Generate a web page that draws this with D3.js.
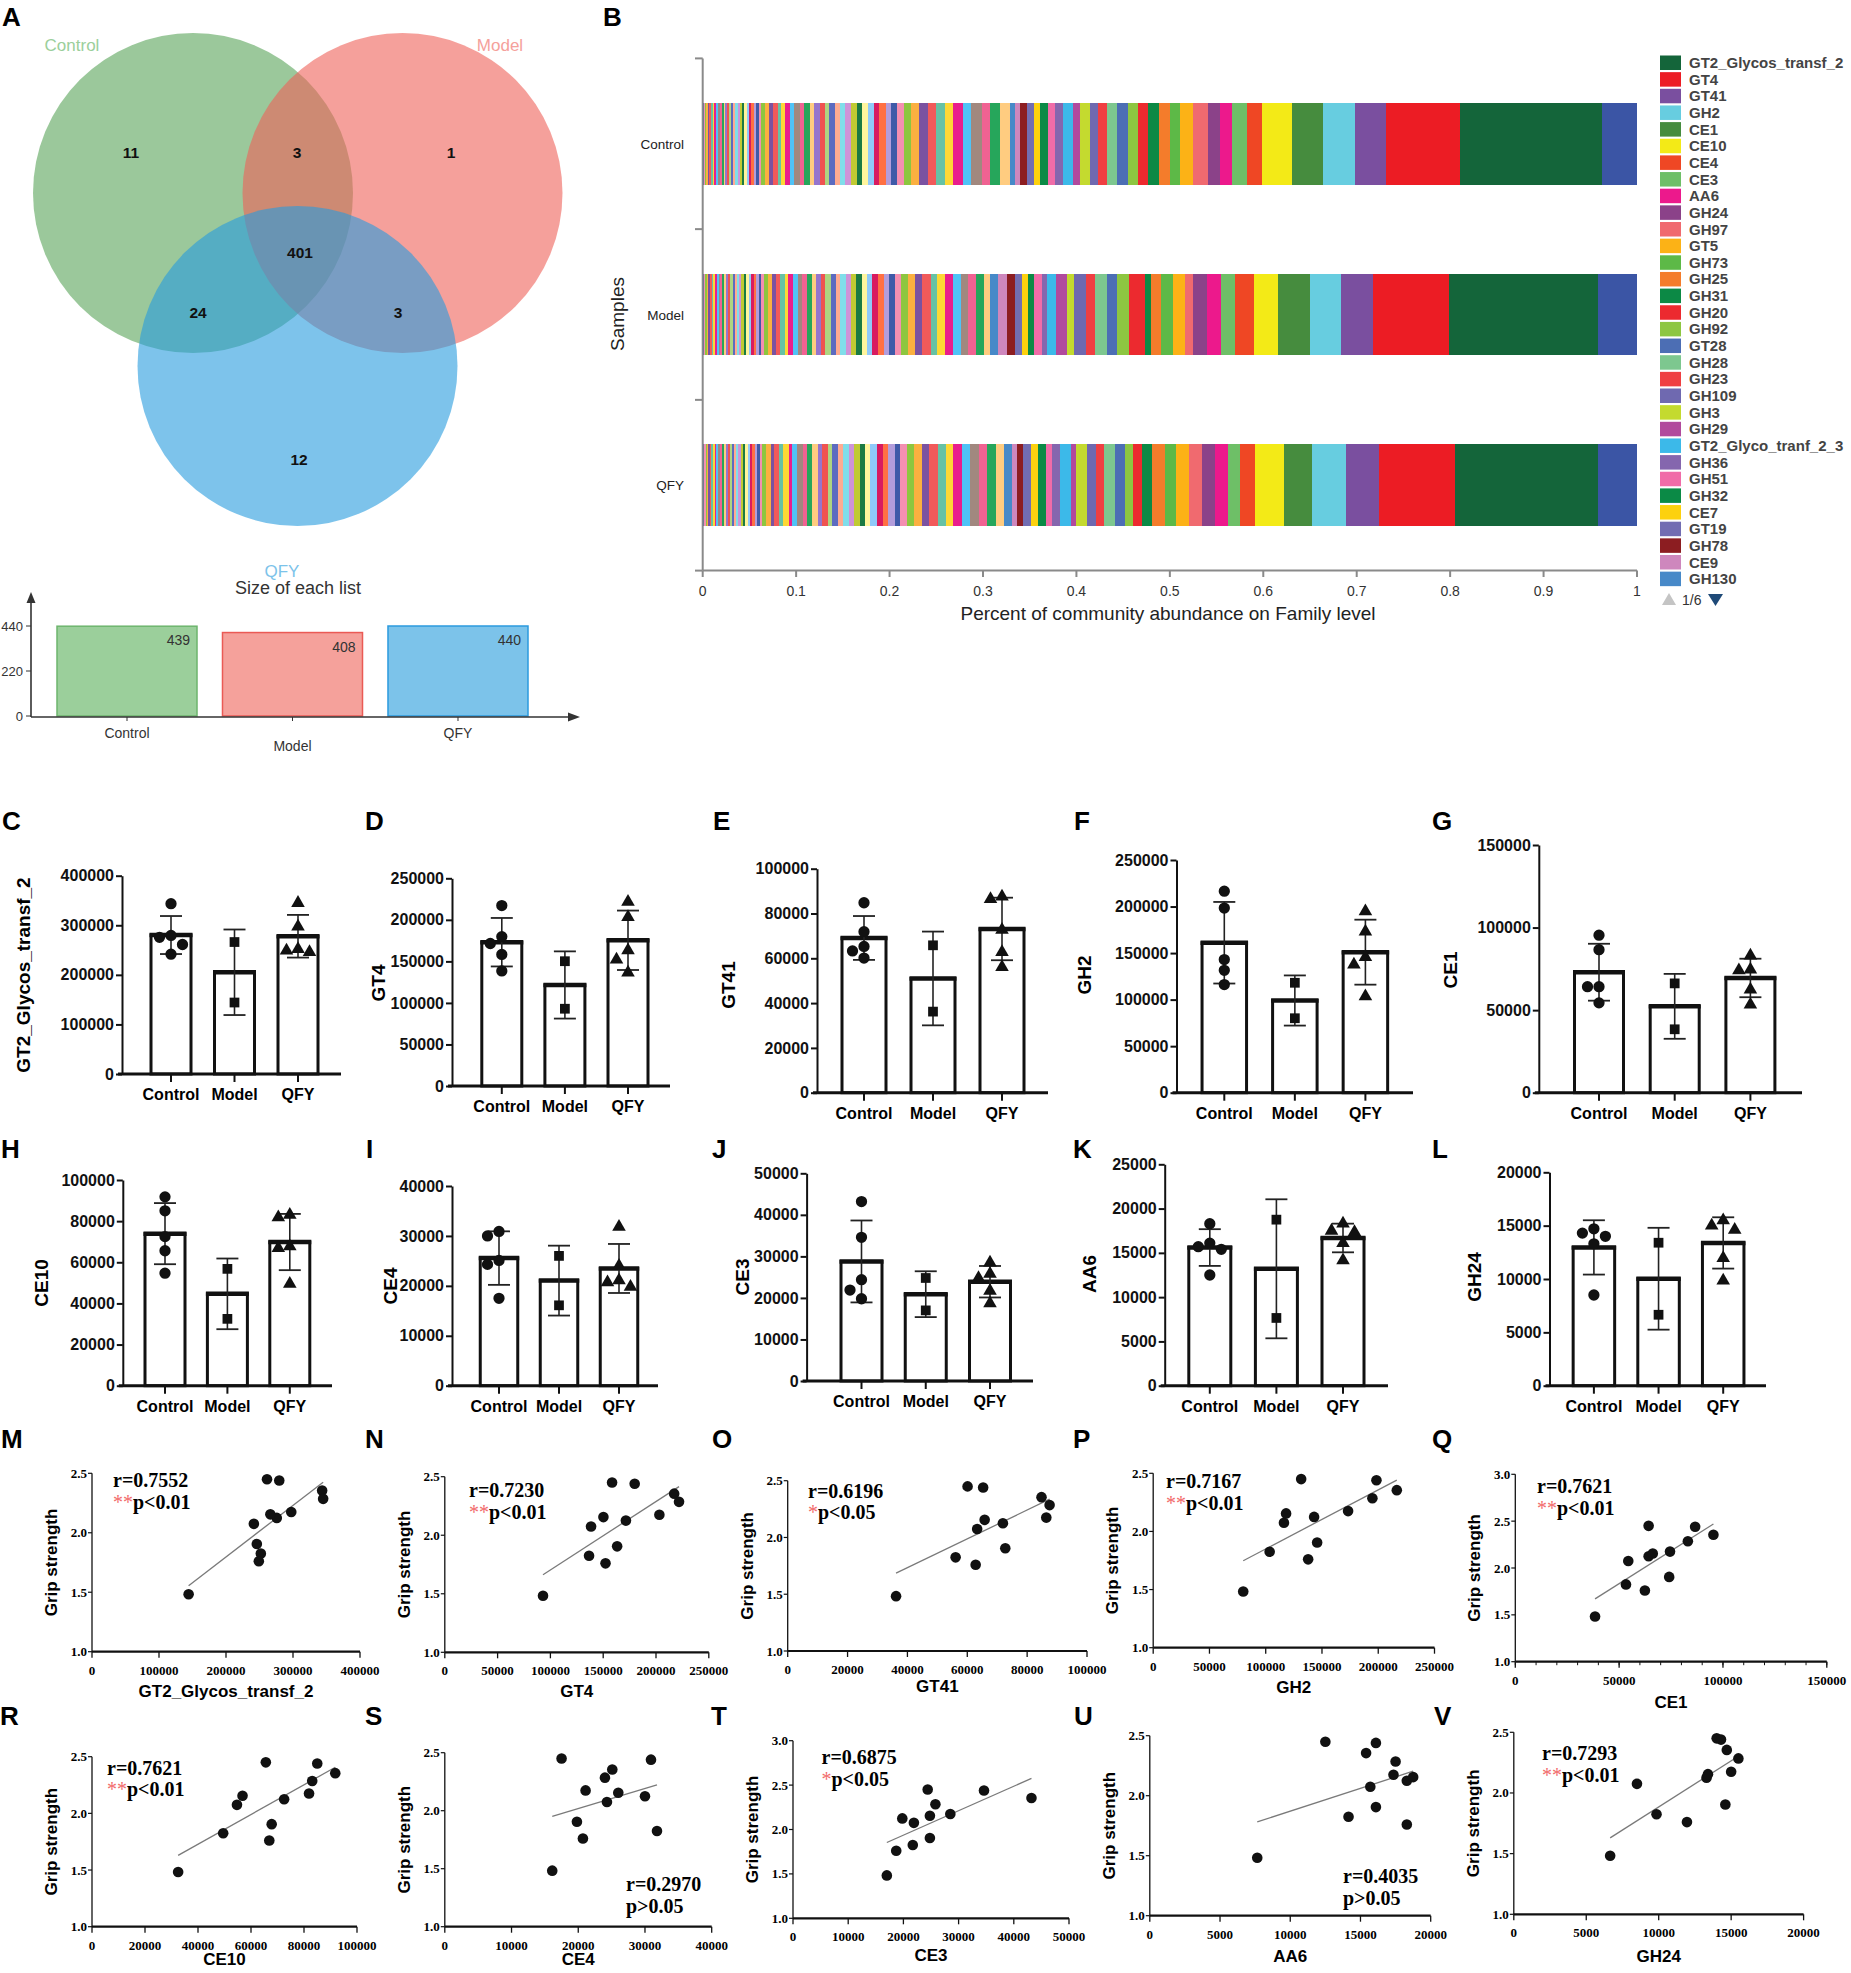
<!DOCTYPE html>
<html>
<head>
<meta charset="utf-8">
<title>CAZy families: Venn, composition, bars and correlations</title>
<script src="https://cdn.jsdelivr.net/npm/d3@7/dist/d3.min.js"></script>
<style>
  body { margin: 0; background: #fff; }
  svg { display: block; }
</style>
</head>
<body>
<div class="chart"></div>
<script>
// ---------------- data ----------------
const groups = ['Control', 'Model', 'QFY'];

// 12 animals: 5 Control, 2 Model, 5 QFY (same order in every feature array)
const sampleGroup = ['Control', 'Control', 'Control', 'Control', 'Control',
  'Model', 'Model', 'QFY', 'QFY', 'QFY', 'QFY', 'QFY'];
const gripStrength = [2.45, 2.44, 2.355, 2.125, 2.075, 2.155, 1.483, 2.285, 2.175, 1.905, 1.825, 1.76];

const featureNames = ['GT2_Glycos_transf_2', 'GT4', 'GT41', 'GH2', 'CE1', 'CE10', 'CE4', 'CE3', 'AA6', 'GH24'];
const gt2Glycos = [261200, 279500, 343500, 275800, 241600, 266200, 144200, 345000, 297400, 246000, 252000, 249000];
const gt4 = [158400, 179800, 217200, 171500, 138500, 150200, 93000, 221800, 203200, 163200, 136600, 152200];
const gt41 = [60100, 65300, 84800, 71900, 63300, 65800, 36200, 87500, 86400, 72700, 56100, 62800];
const gh2 = [131500, 198400, 216500, 143000, 116200, 118100, 80000, 194800, 173200, 145700, 103500, 137700];
const ce1 = [64200, 86600, 95400, 64200, 54400, 66200, 38400, 83100, 74500, 74100, 53300, 62400];
const ce10 = [65600, 85000, 91800, 72500, 54700, 56800, 32500, 83100, 81900, 67800, 49500, 66900];
const ce4 = [17500, 30900, 25100, 30000, 24300, 26000, 16100, 24000, 21100, 19800, 31800, 20700];
const ce3 = [24400, 34600, 43200, 19800, 21900, 24800, 17000, 25800, 28500, 24800, 21700, 18700];
const aa6 = [12500, 16100, 15400, 18300, 15700, 18750, 7650, 17500, 17350, 16100, 14150, 18300];
const gh24 = [14000, 14300, 14700, 13300, 8500, 13400, 6650, 15500, 15000, 14600, 9850, 11950];
const featureValues = [gt2Glycos, gt4, gt41, gh2, ce1, ce10, ce4, ce3, aa6, gh24];

// correlation annotations
const corrR = ['0.7552', '0.7230', '0.6196', '0.7167', '0.7621', '0.7621', '0.2970', '0.6875', '0.4035', '0.7293'];
const corrStars = ['**', '**', '*', '**', '**', '**', '', '*', '', '**'];
const corrP = ['p<0.01', 'p<0.01', 'p<0.05', 'p<0.01', 'p<0.01', 'p<0.01', 'p>0.05', 'p<0.05', 'p>0.05', 'p<0.01'];

// Venn (panel A)
const vennSets = ['Control', 'Model', 'QFY'];
const vennRegions = ['Control', 'Control&Model', 'Model', 'Control&Model&QFY', 'Control&QFY', 'Model&QFY', 'QFY'];
const vennCounts = [11, 3, 1, 401, 24, 3, 12];
const listSizes = [439, 408, 440];

// Family composition (panel B) – legend page 1 of 6, in legend order
const legendFamilies = ['GT2_Glycos_transf_2', 'GT4', 'GT41', 'GH2', 'CE1', 'CE10', 'CE4', 'CE3', 'AA6', 'GH24',
  'GH97', 'GT5', 'GH73', 'GH25', 'GH31', 'GH20', 'GH92', 'GT28', 'GH28', 'GH23', 'GH109', 'GH3', 'GH29',
  'GT2_Glyco_tranf_2_3', 'GH36', 'GH51', 'GH32', 'CE7', 'GT19', 'GH78', 'CE9', 'GH130'];
const legendColors = ['#14653a', '#ec1c24', '#7a4f9f', '#67cde0', '#468c3e', '#f3ea17', '#ef4724', '#6ebf67',
  '#ec198c', '#8b4289', '#f06a6f', '#fcb216', '#5db947', '#f47c2b', '#0c8945', '#ec2a2f', '#8dc641', '#4c6eb4',
  '#7dc78f', '#ef3f42', '#6f69b0', '#c4da2f', '#b14a9d', '#3cb9e9', '#8566ae', '#f06ca8', '#0b8a46', '#fdd10e',
  '#726db2', '#8c1d21', '#ce87bd', '#4789c8'];
const topControl = [0.1528, 0.0790, 0.0325, 0.0347, 0.0328, 0.0321, 0.0168, 0.0161, 0.0128, 0.0125, 0.0166,
  0.0134, 0.0105, 0.0124, 0.0115, 0.0110, 0.0105, 0.0120, 0.0100, 0.0100, 0.0090, 0.0105, 0.0072, 0.0105,
  0.0086, 0.0081, 0.0076, 0.0072, 0.0072, 0.0072, 0.0057, 0.0048];
const topModel = [0.1590, 0.0813, 0.0346, 0.0332, 0.0339, 0.0264, 0.0203, 0.0150, 0.0150, 0.0148, 0.0087,
  0.0119, 0.0129, 0.0110, 0.0062, 0.0177, 0.0129, 0.0110, 0.0120, 0.0096, 0.0129, 0.0076, 0.0115, 0.0096,
  0.0062, 0.0081, 0.0062, 0.0072, 0.0072, 0.0081, 0.0096, 0.0086];
const topQFY = [0.1528, 0.0813, 0.0357, 0.0364, 0.0300, 0.0303, 0.0164, 0.0125, 0.0143, 0.0142, 0.0133,
  0.0143, 0.0120, 0.0134, 0.0105, 0.0105, 0.0086, 0.0105, 0.0110, 0.0086, 0.0105, 0.0110, 0.0057, 0.0119,
  0.0081, 0.0072, 0.0086, 0.0072, 0.0081, 0.0062, 0.0062, 0.0081];
const othersShare = [0.0370, 0.0420, 0.0420];
// the many small families of legend pages 2-6, least abundant first
const minorControl = [
  .0011, .0016, .0013, .0018, .0014, .0020, .0015, .0017, .0022, .0016, .0019, .0024, .0018, .0021, .0017,
  .0025, .0020, .0023, .0019, .0026, .0022, .0028, .0021, .0024, .0027, .0023, .0030, .0025, .0029, .0026,
  .0038, .0045, .0041, .0050, .0036, .0047, .0052, .0044, .0058, .0049, .0055, .0046, .0061, .0053, .0048,
  .0064, .0057, .0051, .0066, .0059, .0054, .0068, .0062, .0056, .0070, .0060, .0065, .0072,
  .0078, .0085, .0092, .0081, .0098, .0088, .0105, .0094, .0110, .0090, .0102, .0115];
const minorModel = [
  .0014, .0012, .0019, .0015, .0017, .0021, .0013, .0020, .0018, .0023, .0016, .0022, .0019, .0025, .0020,
  .0018, .0027, .0022, .0024, .0021, .0028, .0023, .0026, .0030, .0024, .0027, .0031, .0025, .0029, .0032,
  .0040, .0036, .0048, .0043, .0051, .0039, .0046, .0055, .0042, .0050, .0058, .0047, .0053, .0044, .0060,
  .0052, .0049, .0062, .0055, .0050, .0064, .0057, .0053, .0059, .0066, .0054, .0061, .0068,
  .0070, .0082, .0076, .0088, .0072, .0085, .0079, .0092, .0074, .0080, .0087, .0070];
const minorQFY = [
  .0013, .0017, .0012, .0019, .0016, .0014, .0021, .0018, .0015, .0023, .0017, .0020, .0024, .0019, .0022,
  .0018, .0026, .0021, .0024, .0020, .0027, .0023, .0025, .0029, .0022, .0026, .0030, .0024, .0028, .0025,
  .0042, .0047, .0039, .0052, .0045, .0056, .0041, .0050, .0059, .0046, .0054, .0062, .0048, .0057, .0051,
  .0065, .0055, .0060, .0049, .0067, .0058, .0053, .0070, .0061, .0056, .0072, .0063, .0068,
  .0075, .0088, .0080, .0094, .0083, .0078, .0097, .0086, .0091, .0082, .0099, .0089];

// ---------------- drawing ----------------
const SANS = 'Liberation Sans, Arial, sans-serif';
const SERIF = 'Liberation Serif, Times New Roman, serif';

const svg = d3.select('.chart').append('svg')
  .attr('width', 1851)
  .attr('height', 1973)
  .style('font-family', SANS);

svg.append('rect').attr('width', 1851).attr('height', 1973).attr('fill', '#fff');

function panelLetter(letter, x, y) {
  svg.append('text')
    .attr('x', x).attr('y', y)
    .attr('font-size', 26).attr('font-weight', 'bold')
    .text(letter);
}

// ===== A: Venn diagram =====
panelLetter('A', 2, 26);
const vennCircle = [[193, 193], [402.5, 193], [297.5, 366]];
const vennFill = ['#58a358', '#ee6158', '#269bde'];
const vennText = ['#9bcf9b', '#f5a19b', '#7cc3ea'];

svg.append('g').selectAll('circle')
  .data(vennSets)
  .join('circle')
  .attr('cx', (d, i) => vennCircle[i][0])
  .attr('cy', (d, i) => vennCircle[i][1])
  .attr('r', 160)
  .attr('fill', (d, i) => vennFill[i])
  .attr('fill-opacity', 0.6);

const vennLabelPos = [[72, 51], [500, 51], [282, 577]];
svg.append('g').selectAll('text')
  .data(vennSets)
  .join('text')
  .attr('x', (d, i) => vennLabelPos[i][0])
  .attr('y', (d, i) => vennLabelPos[i][1])
  .attr('text-anchor', 'middle')
  .attr('font-size', 17)
  .attr('fill', (d, i) => vennText[i])
  .text(d => d);

const regionPos = {
  'Control': [131, 152], 'Control&Model': [297, 152], 'Model': [451, 152],
  'Control&Model&QFY': [300, 252], 'Control&QFY': [198, 312], 'Model&QFY': [398, 312], 'QFY': [299, 459]
};
svg.append('g').selectAll('text')
  .data(vennRegions)
  .join('text')
  .attr('x', d => regionPos[d][0])
  .attr('y', d => regionPos[d][1] + 5.5)
  .attr('text-anchor', 'middle')
  .attr('font-size', 15.5).attr('font-weight', 'bold').attr('fill', '#111')
  .text((d, i) => vennCounts[i]);

// size of each list
svg.append('text').attr('x', 298).attr('y', 594).attr('text-anchor', 'middle')
  .attr('font-size', 18).attr('fill', '#333').text('Size of each list');

const sizeX = d3.scaleBand().domain(vennSets).range([57, 528]).paddingInner(0.154).paddingOuter(0);
const sizeY = d3.scaleLinear().domain([0, 440]).range([716, 626]);
const sizeStroke = ['#6db56d', '#ea5a55', '#2b9ade'];

svg.append('g').selectAll('rect')
  .data(vennSets)
  .join('rect')
  .attr('x', d => sizeX(d))
  .attr('y', (d, i) => sizeY(listSizes[i]))
  .attr('width', sizeX.bandwidth())
  .attr('height', (d, i) => sizeY(0) - sizeY(listSizes[i]))
  .attr('fill', (d, i) => vennText[i])
  .attr('stroke', (d, i) => sizeStroke[i])
  .attr('stroke-width', 1.5);

svg.append('g').selectAll('text')
  .data(vennSets)
  .join('text')
  .attr('x', d => sizeX(d) + sizeX.bandwidth() - 7)
  .attr('y', (d, i) => sizeY(listSizes[i]) + 19)
  .attr('text-anchor', 'end').attr('font-size', 14).attr('fill', '#333')
  .text((d, i) => listSizes[i]);

const axisCol = '#333';
svg.append('line').attr('x1', 31).attr('x2', 31).attr('y1', 717).attr('y2', 600)
  .attr('stroke', axisCol).attr('stroke-width', 1.6);
svg.append('path').attr('d', 'M31,592 L26.5,603 L35.5,603 Z').attr('fill', axisCol);
svg.append('line').attr('x1', 31).attr('x2', 570).attr('y1', 717).attr('y2', 717)
  .attr('stroke', axisCol).attr('stroke-width', 1.6);
svg.append('path').attr('d', 'M580,717 L568,712.5 L568,721.5 Z').attr('fill', axisCol);

[0, 220, 440].forEach(t => {
  svg.append('line').attr('x1', 26).attr('x2', 31).attr('y1', sizeY(t)).attr('y2', sizeY(t))
    .attr('stroke', axisCol);
  svg.append('text').attr('x', 23).attr('y', sizeY(t) + 5).attr('text-anchor', 'end')
    .attr('font-size', 13).attr('fill', '#333').text(t);
});
const sizeLabelY = [738, 751, 738];
vennSets.forEach((d, i) => {
  const cx = sizeX(d) + sizeX.bandwidth() / 2;
  svg.append('line').attr('x1', cx).attr('x2', cx).attr('y1', 717).attr('y2', 721).attr('stroke', axisCol);
  svg.append('text').attr('x', cx).attr('y', sizeLabelY[i]).attr('text-anchor', 'middle')
    .attr('font-size', 14).attr('fill', '#333').text(d);
});

// ===== B: stacked family composition =====
panelLetter('B', 603, 26);
const stripePalette = ['#3f5aa8', '#f48fb1', '#8dc63f', '#fbb040', '#7b52a1', '#f15a5a', '#66c2a5', '#fdd835',
  '#e91e8c', '#4fc3f7', '#a1887f', '#f06292', '#26a65b', '#ffcc80', '#9575cd', '#ef5350', '#aed581', '#5c6bc0',
  '#ffab91', '#80deea', '#ce93d8', '#c0ca33', '#1b7a43', '#fff59d', '#90caf9', '#d81b60', '#ff7043', '#b39ddb'];
const minorArrays = [minorControl, minorModel, minorQFY];
const topArrays = [topControl, topModel, topQFY];
const minorKeys = minorControl.map((v, j) => 'minor' + j);
const stackKeys = minorKeys.concat(legendFamilies.slice().reverse(), ['Others']);

const rows = groups.map((s, i) => {
  const row = { sample: s };
  minorKeys.forEach((k, j) => { row[k] = minorArrays[i][j]; });
  legendFamilies.forEach((f, j) => { row[f] = topArrays[i][j]; });
  row.Others = othersShare[i];
  return row;
});
const series = d3.stack().keys(stackKeys)(rows);

function familyColor(key) {
  if (key === 'Others') return '#3b55a5';
  const li = legendFamilies.indexOf(key);
  if (li >= 0) return legendColors[li];
  return stripePalette[minorKeys.indexOf(key) % stripePalette.length];
}

const bx = d3.scaleLinear().domain([0, 1]).range([702.7, 1637]);
const by = d3.scaleBand().domain(groups).range([58.4, 570.6]).paddingInner(0.52).paddingOuter(0.26);

svg.append('g')
  .attr('shape-rendering', 'crispEdges')
  .selectAll('g')
  .data(series)
  .join('g')
  .attr('fill', d => familyColor(d.key))
  .selectAll('rect')
  .data(d => d)
  .join('rect')
  .attr('x', d => bx(d[0]))
  .attr('width', d => Math.max(0.6, bx(d[1]) - bx(d[0])))
  .attr('y', d => by(d.data.sample))
  .attr('height', by.bandwidth());

const bAxis = '#8a8a8a';
svg.append('line').attr('x1', 702.7).attr('x2', 702.7).attr('y1', 58.4).attr('y2', 570.6)
  .attr('stroke', bAxis).attr('stroke-width', 2);
svg.append('line').attr('x1', 702.7).attr('x2', 1637).attr('y1', 570.6).attr('y2', 570.6)
  .attr('stroke', bAxis).attr('stroke-width', 2);
[0, 1, 2, 3].forEach(k => {
  const yy = 58.4 + k * by.step();
  svg.append('line').attr('x1', 695).attr('x2', 702.7).attr('y1', yy).attr('y2', yy)
    .attr('stroke', bAxis).attr('stroke-width', 2);
});
bx.ticks(10).forEach(t => {
  svg.append('line').attr('x1', bx(t)).attr('x2', bx(t)).attr('y1', 570.6).attr('y2', 577)
    .attr('stroke', bAxis).attr('stroke-width', 2);
  svg.append('text').attr('x', bx(t)).attr('y', 596).attr('text-anchor', 'middle')
    .attr('font-size', 14).attr('fill', '#333').text(t === 0 || t === 1 ? d3.format('d')(t) : t);
});
groups.forEach(g => {
  svg.append('text').attr('x', 684).attr('y', by(g) + by.bandwidth() / 2 + 5)
    .attr('text-anchor', 'end').attr('font-size', 13.5).attr('fill', '#222').text(g);
});
svg.append('text').attr('x', 1168).attr('y', 620).attr('text-anchor', 'middle')
  .attr('font-size', 19).attr('fill', '#222').text('Percent of community abundance on Family level');
svg.append('text').attr('transform', 'translate(624,314) rotate(-90)').attr('text-anchor', 'middle')
  .attr('font-size', 19).attr('fill', '#222').text('Samples');

// legend
const legend = svg.append('g');
legendFamilies.forEach((f, i) => {
  const yy = 55.5 + i * 16.65;
  legend.append('rect').attr('x', 1660).attr('y', yy).attr('width', 21).attr('height', 14.5)
    .attr('fill', legendColors[i]);
  legend.append('text').attr('x', 1689).attr('y', yy + 12.5)
    .attr('font-size', 15).attr('font-weight', 'bold').attr('fill', '#444').text(f);
});
legend.append('path').attr('d', 'M1669,593 L1662,605 L1676,605 Z').attr('fill', '#c4c4c4');
legend.append('text').attr('x', 1682).attr('y', 605).attr('font-size', 14).attr('fill', '#333').text('1/6');
legend.append('path').attr('d', 'M1708,594 L1723,594 L1715.5,606 Z').attr('fill', '#1f4a78');

// ===== C–L: mean ± SD bar charts =====
const barLayout = [
  { letter: 'C', lx: 2, ly: 830, ax: 122, y0: 1074, yTop: 875.7, max: 400000, step: 100000, cx: [171, 298], bw: 40, xEnd: 341, tx: 23, ty: 975 },
  { letter: 'D', lx: 365, ly: 830, ax: 452, y0: 1086, yTop: 878.3, max: 250000, step: 50000, cx: [501.8, 628], bw: 40, xEnd: 670, tx: 378, ty: 983 },
  { letter: 'E', lx: 713, ly: 830, ax: 817, y0: 1092.7, yTop: 868.7, max: 100000, step: 20000, cx: [864, 1002], bw: 44, xEnd: 1048, tx: 728, ty: 985 },
  { letter: 'F', lx: 1074, ly: 830, ax: 1176.5, y0: 1092.7, yTop: 860, max: 250000, step: 50000, cx: [1224.3, 1365.4], bw: 44.5, xEnd: 1413, tx: 1084, ty: 975 },
  { letter: 'G', lx: 1432, ly: 830, ax: 1538.8, y0: 1092.7, yTop: 845, max: 150000, step: 50000, cx: [1599, 1750.4], bw: 49, xEnd: 1802, tx: 1450, ty: 970 },
  { letter: 'H', lx: 1, ly: 1158, ax: 122.8, y0: 1385.7, yTop: 1180, max: 100000, step: 20000, cx: [165, 289.8], bw: 40, xEnd: 332, tx: 41, ty: 1283 },
  { letter: 'I', lx: 366, ly: 1158, ax: 452, y0: 1385.7, yTop: 1186, max: 40000, step: 10000, cx: [499, 619], bw: 37.5, xEnd: 658, tx: 390, ty: 1286 },
  { letter: 'J', lx: 712, ly: 1158, ax: 806.6, y0: 1381, yTop: 1173.3, max: 50000, step: 10000, cx: [861.5, 990], bw: 41, xEnd: 1033, tx: 742, ty: 1277 },
  { letter: 'K', lx: 1073, ly: 1158, ax: 1164.7, y0: 1385.7, yTop: 1164.3, max: 25000, step: 5000, cx: [1209.8, 1343], bw: 42, xEnd: 1388, tx: 1089, ty: 1274 },
  { letter: 'L', lx: 1432, ly: 1158, ax: 1549.5, y0: 1385.7, yTop: 1172.3, max: 20000, step: 5000, cx: [1593.9, 1723.2], bw: 41.5, xEnd: 1766, tx: 1474, ty: 1277 }
];

const markerShape = { Control: d3.symbolCircle, Model: d3.symbolSquare, QFY: d3.symbolTriangle };
const markerSize = { Control: 100, Model: 95, QFY: 80 };

// simple beeswarm so near-equal values sit side by side
function swarm(vals, yScale, cx, step, minDist) {
  const placed = [];
  const out = [];
  vals.map((v, i) => i).sort((a, b) => vals[b] - vals[a]).forEach(i => {
    const py = yScale(vals[i]);
    for (let k = 0; k < 12; k++) {
      const off = k === 0 ? 0 : (k % 2 ? -1 : 1) * Math.ceil(k / 2) * step;
      const px = cx + off;
      if (placed.every(q => Math.hypot(q[0] - px, q[1] - py) >= minDist)) {
        placed.push([px, py]);
        out[i] = [px, py];
        break;
      }
    }
  });
  return out;
}

barLayout.forEach((p, fi) => {
  const values = featureValues[fi];
  const y = d3.scaleLinear().domain([0, p.max]).range([p.y0, p.yTop]);
  const x = d3.scalePoint().domain(groups).range(p.cx);
  const g = svg.append('g');
  panelLetter(p.letter, p.lx, p.ly);

  const yAxis = g.append('g')
    .attr('transform', `translate(${p.ax},0)`)
    .call(d3.axisLeft(y).tickValues(d3.range(0, p.max + 1, p.step)).tickFormat(d3.format('d'))
      .tickSize(6).tickSizeOuter(0).tickPadding(2));
  yAxis.selectAll('path, line').attr('stroke', '#111').attr('stroke-width', 2);
  yAxis.selectAll('text').attr('font-family', SANS).attr('font-size', 16).attr('font-weight', 'bold').attr('fill', '#111');

  g.append('text')
    .attr('transform', `translate(${p.tx},${p.ty}) rotate(-90)`)
    .attr('text-anchor', 'middle').attr('dy', '0.35em')
    .attr('font-size', 19).attr('font-weight', 'bold')
    .text(featureNames[fi]);

  groups.forEach(grp => {
    const vals = values.filter((v, i) => sampleGroup[i] === grp);
    const mean = d3.mean(vals);
    const sd = d3.deviation(vals);
    const cx = x(grp);
    g.append('rect')
      .attr('x', cx - p.bw / 2).attr('y', y(mean))
      .attr('width', p.bw).attr('height', p.y0 - y(mean))
      .attr('fill', '#fff').attr('stroke', '#111').attr('stroke-width', 3);
    g.append('line').attr('x1', cx - p.bw / 2 - 1.5).attr('x2', cx + p.bw / 2 + 1.5)
      .attr('y1', y(mean)).attr('y2', y(mean)).attr('stroke', '#111').attr('stroke-width', 4.5);
    // error bar
    g.append('line').attr('x1', cx).attr('x2', cx).attr('y1', y(mean + sd)).attr('y2', y(Math.max(0, mean - sd)))
      .attr('stroke', '#222').attr('stroke-width', 1.6);
    [mean + sd, mean - sd].forEach(v => {
      g.append('line').attr('x1', cx - 11).attr('x2', cx + 11).attr('y1', y(v)).attr('y2', y(v))
        .attr('stroke', '#222').attr('stroke-width', 1.8);
    });
    // individual animals
    const pos = swarm(vals, y, cx, 11.5, 10.5);
    g.append('g').selectAll('path')
      .data(vals)
      .join('path')
      .attr('transform', (d, i) => `translate(${pos[i][0]},${pos[i][1]})`)
      .attr('d', d3.symbol().type(markerShape[grp]).size(markerSize[grp]))
      .attr('fill', '#111');
    // x tick + label
    g.append('line').attr('x1', cx).attr('x2', cx).attr('y1', p.y0).attr('y2', p.y0 + 8)
      .attr('stroke', '#111').attr('stroke-width', 2);
    g.append('text').attr('x', cx).attr('y', p.y0 + 26).attr('text-anchor', 'middle')
      .attr('font-size', 16).attr('font-weight', 'bold').text(grp);
  });
  g.append('line').attr('x1', p.ax - 4).attr('x2', p.xEnd).attr('y1', p.y0).attr('y2', p.y0)
    .attr('stroke', '#111').attr('stroke-width', 3);
});

// ===== M–V: correlation with grip strength =====
const scatterLayout = [
  { letter: 'M', lx: 1, ly: 1448, ax: 92, y0: 1651.7, yTop: 1473.3, yMax: 2.5, xEnd: 360, xMax: 400000, xStep: 100000, ann: [113, 1487, 1509], ty: 1697 },
  { letter: 'N', lx: 365, ly: 1448, ax: 444.8, y0: 1652.3, yTop: 1476.7, yMax: 2.5, xEnd: 708.8, xMax: 250000, xStep: 50000, ann: [469, 1497, 1519], ty: 1697 },
  { letter: 'O', lx: 712, ly: 1448, ax: 787.7, y0: 1651, yTop: 1480.7, yMax: 2.5, xEnd: 1087, xMax: 100000, xStep: 20000, ann: [808, 1498, 1519], ty: 1692 },
  { letter: 'P', lx: 1073, ly: 1448, ax: 1153.2, y0: 1647.7, yTop: 1473.3, yMax: 2.5, xEnd: 1434.5, xMax: 250000, xStep: 50000, ann: [1166, 1488, 1510], ty: 1693 },
  { letter: 'Q', lx: 1432, ly: 1448, ax: 1515.3, y0: 1661.7, yTop: 1474.3, yMax: 3.0, xEnd: 1826.8, xMax: 150000, xStep: 50000, minor: 10000, ann: [1537, 1493, 1515], ty: 1708 },
  { letter: 'R', lx: 0, ly: 1725, ax: 92, y0: 1926.7, yTop: 1756.7, yMax: 2.5, xEnd: 357, xMax: 100000, xStep: 20000, ann: [107, 1775, 1796], ty: 1965 },
  { letter: 'S', lx: 365, ly: 1725, ax: 444.8, y0: 1926.7, yTop: 1752.7, yMax: 2.5, xEnd: 711.7, xMax: 40000, xStep: 10000, ann: [626, 1891, 1913], ty: 1965 },
  { letter: 'T', lx: 711, ly: 1725, ax: 793, y0: 1918.3, yTop: 1740.7, yMax: 3.0, xEnd: 1069, xMax: 50000, xStep: 10000, ann: [821.5, 1764, 1786], ty: 1961 },
  { letter: 'U', lx: 1074, ly: 1725, ax: 1149.8, y0: 1915.7, yTop: 1735.7, yMax: 2.5, xEnd: 1430.7, xMax: 20000, xStep: 5000, ann: [1343, 1883, 1905], ty: 1962 },
  { letter: 'V', lx: 1434, ly: 1725, ax: 1513.8, y0: 1914.3, yTop: 1732.3, yMax: 2.5, xEnd: 1803.6, xMax: 20000, xStep: 5000, ann: [1542, 1760, 1782], ty: 1962 }
];

scatterLayout.forEach((p, fi) => {
  const xs = featureValues[fi];
  const x = d3.scaleLinear().domain([0, p.xMax]).range([p.ax, p.xEnd]);
  const y = d3.scaleLinear().domain([1, p.yMax]).range([p.y0, p.yTop]);
  const g = svg.append('g');
  panelLetter(p.letter, p.lx, p.ly);

  // y axis
  g.append('line').attr('x1', p.ax).attr('x2', p.ax).attr('y1', p.y0).attr('y2', p.yTop)
    .attr('stroke', '#111').attr('stroke-width', 1.3);
  d3.range(1, p.yMax + 0.01, 0.5).forEach(t => {
    g.append('line').attr('x1', p.ax - 4).attr('x2', p.ax).attr('y1', y(t)).attr('y2', y(t))
      .attr('stroke', '#111').attr('stroke-width', 1.2);
    g.append('text').attr('x', p.ax - 5).attr('y', y(t) + 4.5).attr('text-anchor', 'end')
      .attr('font-family', SERIF).attr('font-size', 13).attr('font-weight', 'bold').text(d3.format('.1f')(t));
  });
  // x axis
  g.append('line').attr('x1', p.ax).attr('x2', p.xEnd).attr('y1', p.y0).attr('y2', p.y0)
    .attr('stroke', '#111').attr('stroke-width', 2.2);
  if (p.minor) {
    d3.range(0, p.xMax + 1, p.minor).forEach(t => {
      g.append('line').attr('x1', x(t)).attr('x2', x(t)).attr('y1', p.y0).attr('y2', p.y0 + 3.5)
        .attr('stroke', '#111').attr('stroke-width', 1);
    });
  }
  d3.range(0, p.xMax + 1, p.xStep).forEach(t => {
    g.append('line').attr('x1', x(t)).attr('x2', x(t)).attr('y1', p.y0).attr('y2', p.y0 + 6)
      .attr('stroke', '#111').attr('stroke-width', 1.3);
    g.append('text').attr('x', x(t)).attr('y', p.y0 + 23).attr('text-anchor', 'middle')
      .attr('font-family', SERIF).attr('font-size', 13).attr('font-weight', 'bold').text(t);
  });
  g.append('text').attr('x', (p.ax + p.xEnd) / 2).attr('y', p.ty).attr('text-anchor', 'middle')
    .attr('font-size', 17).attr('font-weight', 'bold').text(featureNames[fi]);
  g.append('text')
    .attr('transform', `translate(${p.ax - 41},${(p.y0 + p.yTop) / 2}) rotate(-90)`)
    .attr('text-anchor', 'middle').attr('dy', '0.35em')
    .attr('font-size', 17).attr('font-weight', 'bold').text('Grip strength');

  // least-squares line over the data range
  const mx = d3.mean(xs);
  const my = d3.mean(gripStrength);
  const slope = d3.sum(xs, (v, i) => (v - mx) * (gripStrength[i] - my)) / d3.sum(xs, v => (v - mx) * (v - mx));
  const x1 = d3.min(xs);
  const x2 = d3.max(xs);
  g.append('line')
    .attr('x1', x(x1)).attr('y1', y(my + slope * (x1 - mx)))
    .attr('x2', x(x2)).attr('y2', y(my + slope * (x2 - mx)))
    .attr('stroke', '#7a7a7a').attr('stroke-width', 1.3);

  g.append('g').selectAll('circle')
    .data(xs)
    .join('circle')
    .attr('cx', d => x(d))
    .attr('cy', (d, i) => y(gripStrength[i]))
    .attr('r', 5.3)
    .attr('fill', '#111');

  g.append('text').attr('x', p.ann[0]).attr('y', p.ann[1])
    .attr('font-family', SERIF).attr('font-size', 20).attr('font-weight', 'bold')
    .text('r=' + corrR[fi]);
  const pt = g.append('text').attr('x', p.ann[0]).attr('y', p.ann[2])
    .attr('font-family', SERIF).attr('font-size', 20).attr('font-weight', 'bold');
  if (corrStars[fi]) {
    pt.append('tspan').attr('fill', '#f26a6a').attr('font-weight', 'normal').text(corrStars[fi]);
  }
  pt.append('tspan').text(corrP[fi]);
});
</script>
</body>
</html>
